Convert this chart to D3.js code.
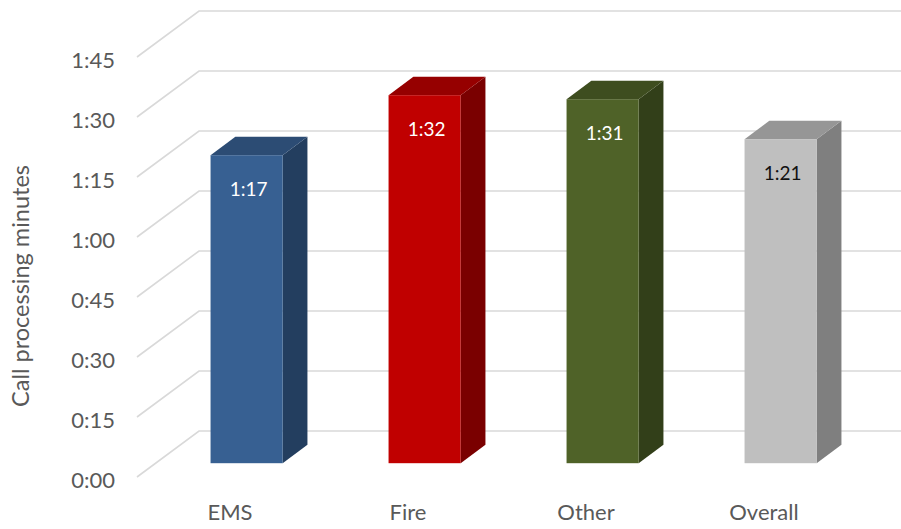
<!DOCTYPE html>
<html>
<head>
<meta charset="utf-8">
<script src="https://cdn.jsdelivr.net/npm/d3@7"></script>
<style>
  html, body { margin: 0; padding: 0; background: #ffffff; }
  svg { display: block; }
  text { font-family: Lato, "Open Sans", sans-serif; }
</style>
</head>
<body>
<svg id="chart" width="901" height="529"></svg>
<script>
// ---- data ----
const categories = ["EMS", "Fire", "Other", "Overall"];
const valuesSeconds = [77, 92, 91, 81];            // 1:17, 1:32, 1:31, 1:21
const valueLabels = ["1:17", "1:32", "1:31", "1:21"];
const tickValues = [0, 15, 30, 45, 60, 75, 90, 105];
const frontColors = ["#376092", "#c00000", "#4f6228", "#bfbfbf"];
const sideColors  = ["#233e5f", "#7a0000", "#323f19", "#7f7f7f"];
const topColors   = ["#2c4c74", "#960000", "#3e4d1f", "#969696"];
const labelColors = ["#ffffff", "#ffffff", "#ffffff", "#111111"];
const yTitle = "Call processing minutes";

// ---- layout ----
const W = 901, H = 529;
const depthX = 62, depthY = -46;       // floor depth (front -> back wall)
const barFront = 0.3, barBack = 0.7;   // bar position within depth
const svg = d3.select("#chart");

const x = d3.scaleBand().domain(categories).range([139, 851]).padding(0);
const y = d3.scaleLinear().domain([0, 105]).range([477, 57]);
const barW = x.bandwidth() * 0.405;

const fmt = s => Math.floor(s / 60) + ":" + String(s % 60).padStart(2, "0");

// gridlines: diagonal on the left floor side + horizontal on back wall
const grid = svg.append("g");
tickValues.forEach(t => {
  const x0 = x.range()[0] - 2, y0 = y(t);
  grid.append("path")
    .attr("d", `M${x0},${y0} L${x0 + depthX},${y0 + depthY} L${W + 20},${y0 + depthY}`)
    .attr("fill", "none").attr("stroke", "#d9d9d9").attr("stroke-width", 1.6);
});

// tick labels
svg.append("g").selectAll("text").data(tickValues).join("text")
  .attr("x", 115).attr("y", d => y(d) + 3)
  .attr("dy", "0.35em").attr("text-anchor", "end")
  .attr("font-size", 22).attr("fill", "#595959")
  .text(fmt);

// y title
svg.append("text")
  .attr("transform", "translate(29,286) rotate(-90)")
  .attr("text-anchor", "middle").attr("font-size", 23.5).attr("fill", "#595959")
  .text(yTitle);

// bars
const bars = svg.append("g");
categories.forEach((c, i) => {
  const cx = x(c) + x.bandwidth() / 2;
  const fx = cx - barW / 2 + depthX * barFront;
  const fyOff = depthY * barFront;
  const bx = depthX * (barBack - barFront), by = depthY * (barBack - barFront);
  const y0 = y(0) + fyOff, y1 = y(valuesSeconds[i]) + fyOff;
  // side
  bars.append("path")
    .attr("d", `M${fx + barW},${y0} L${fx + barW + bx},${y0 + by} L${fx + barW + bx},${y1 + by} L${fx + barW},${y1} Z`)
    .attr("fill", sideColors[i]);
  // top
  bars.append("path")
    .attr("d", `M${fx},${y1} L${fx + barW},${y1} L${fx + barW + bx},${y1 + by} L${fx + bx},${y1 + by} Z`)
    .attr("fill", topColors[i]);
  // front
  bars.append("rect")
    .attr("x", fx).attr("y", y1).attr("width", barW).attr("height", y0 - y1)
    .attr("fill", frontColors[i]);
  // value label
  bars.append("text")
    .attr("x", fx + barW / 2 + 2).attr("y", y1 + 34)
    .attr("dy", "0.35em").attr("text-anchor", "middle")
    .attr("font-size", 19).attr("fill", labelColors[i])
    .text(valueLabels[i]);
});

// category labels
svg.append("g").selectAll("text").data(categories).join("text")
  .attr("x", d => x(d) + x.bandwidth() / 2 + 2).attr("y", 520)
  .attr("text-anchor", "middle").attr("font-size", 22).attr("fill", "#595959")
  .text(d => d);
</script>
</body>
</html>
